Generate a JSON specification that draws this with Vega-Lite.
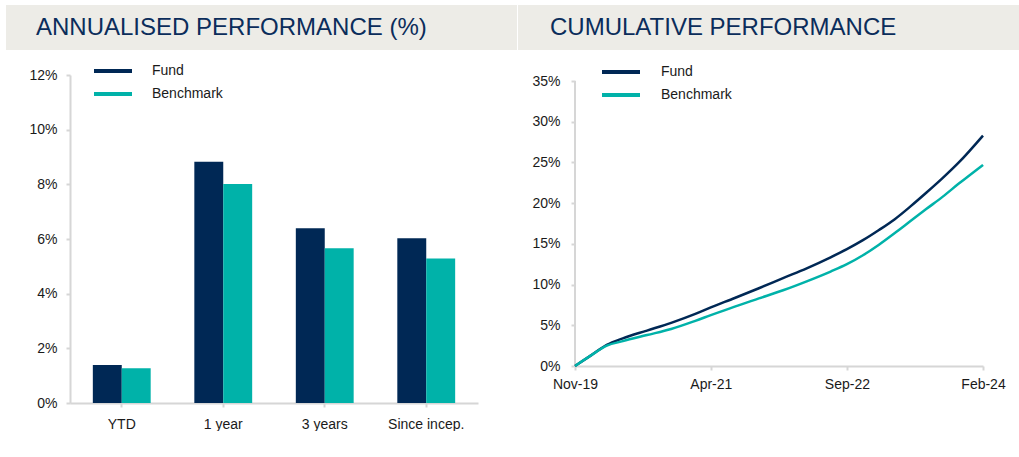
{
  "$schema": "https://vega.github.io/schema/vega-lite/v6.json",
  "background": "white",
  "padding": {"left": 6, "top": 5, "right": 0, "bottom": 0},
  "autosize": {"type": "pad"},
  "config": {
    "font": "Liberation Sans",
    "view": {"stroke": null},
    "axis": {
      "labelFont": "Liberation Sans",
      "labelFontSize": 14,
      "labelColor": "#1a1a1a",
      "domainColor": "#D6D6D6",
      "domainWidth": 2,
      "tickColor": "#D6D6D6",
      "tickWidth": 2,
      "tickSize": 4,
      "grid": false
    },
    "legend": {
      "labelFont": "Liberation Sans",
      "labelFontSize": 14,
      "labelColor": "#1a1a1a"
    }
  },
  "spacing": 10,
  "resolve": {"scale": {"color": "independent"}, "legend": {"color": "independent"}},
  "vconcat": [
    {
      "spacing": 1,
      "hconcat": [
        {
          "width": 511,
          "height": 45,
          "view": {"fill": "#EDECE7", "stroke": null},
          "data": {"values": [{"title": "ANNUALISED PERFORMANCE (%)"}]},
          "mark": {"type": "text", "align": "left", "baseline": "middle", "font": "Liberation Sans", "fontSize": 24, "color": "#0B2D5B"},
          "encoding": {"text": {"field": "title"}, "x": {"value": 30}, "y": {"value": 23}}
        },
        {
          "width": 501,
          "height": 45,
          "view": {"fill": "#EDECE7", "stroke": null},
          "data": {"values": [{"title": "CUMULATIVE PERFORMANCE"}]},
          "mark": {"type": "text", "align": "left", "baseline": "middle", "font": "Liberation Sans", "fontSize": 24, "color": "#0B2D5B"},
          "encoding": {"text": {"field": "title"}, "x": {"value": 32}, "y": {"value": 23}}
        }
      ]
    },
    {
      "spacing": 0,
      "resolve": {"scale": {"color": "independent"}, "legend": {"color": "independent"}},
      "hconcat": [
        {
          "width": 14,
          "height": 1,
          "data": {"values": []},
          "mark": {"type": "point", "opacity": 0},
          "encoding": {}
        },
        {
          "width": 408,
          "height": 328,
          "data": {"values": [
            {"period": "YTD", "series": "Fund", "value": 1.39},
            {"period": "YTD", "series": "Benchmark", "value": 1.27},
            {"period": "1 year", "series": "Fund", "value": 8.83},
            {"period": "1 year", "series": "Benchmark", "value": 8.01},
            {"period": "3 years", "series": "Fund", "value": 6.39},
            {"period": "3 years", "series": "Benchmark", "value": 5.66},
            {"period": "Since incep.", "series": "Fund", "value": 6.03},
            {"period": "Since incep.", "series": "Benchmark", "value": 5.29}
          ]},
          "mark": {"type": "bar"},
          "encoding": {
            "x": {
              "field": "period", "type": "nominal",
              "sort": ["YTD", "1 year", "3 years", "Since incep."],
              "scale": {"paddingInner": 0.43, "paddingOuter": 0.225},
              "axis": {"title": null, "labelAngle": 0, "labelPadding": 10}
            },
            "xOffset": {"field": "series", "type": "nominal", "sort": ["Fund", "Benchmark"]},
            "y": {
              "field": "value", "type": "quantitative",
              "scale": {"domain": [0, 12], "nice": false},
              "axis": {"title": null, "values": [0, 2, 4, 6, 8, 10, 12], "labelExpr": "datum.value + '%'", "labelPadding": 9, "minExtent": 50}
            },
            "color": {
              "field": "series", "type": "nominal",
              "sort": ["Fund", "Benchmark"],
              "scale": {"domain": ["Fund", "Benchmark"], "range": ["#002855", "#00B2A9"]},
              "legend": {
                "title": null,
                "orient": "none",
                "legendX": 32.5,
                "legendY": -14.5,
                "symbolType": "M-2,-0.2H2V0.2H-2Z",
                "symbolSize": 361,
                "labelOffset": 28.5,
                "rowPadding": 5
              }
            }
          }
        },
        {
          "width": 408,
          "height": 291,
          "data": {"values": [
            {"date": "2019-11-01", "series": "Fund", "value": 0},
            {"date": "2020-01-01", "series": "Fund", "value": 1.3},
            {"date": "2020-03-01", "series": "Fund", "value": 2.6},
            {"date": "2020-05-01", "series": "Fund", "value": 3.4},
            {"date": "2020-08-01", "series": "Fund", "value": 4.35},
            {"date": "2020-11-01", "series": "Fund", "value": 5.3},
            {"date": "2021-02-01", "series": "Fund", "value": 6.4},
            {"date": "2021-04-01", "series": "Fund", "value": 7.2},
            {"date": "2021-07-01", "series": "Fund", "value": 8.35},
            {"date": "2021-10-01", "series": "Fund", "value": 9.55},
            {"date": "2022-01-01", "series": "Fund", "value": 10.8},
            {"date": "2022-04-01", "series": "Fund", "value": 12.0},
            {"date": "2022-07-01", "series": "Fund", "value": 13.35},
            {"date": "2022-09-01", "series": "Fund", "value": 14.35},
            {"date": "2022-11-01", "series": "Fund", "value": 15.45},
            {"date": "2023-01-01", "series": "Fund", "value": 16.7},
            {"date": "2023-03-01", "series": "Fund", "value": 18.0},
            {"date": "2023-05-01", "series": "Fund", "value": 19.6},
            {"date": "2023-07-01", "series": "Fund", "value": 21.3},
            {"date": "2023-09-01", "series": "Fund", "value": 23.1},
            {"date": "2023-11-01", "series": "Fund", "value": 25.0},
            {"date": "2024-02-01", "series": "Fund", "value": 28.3},
            {"date": "2019-11-01", "series": "Benchmark", "value": 0},
            {"date": "2020-01-01", "series": "Benchmark", "value": 1.3},
            {"date": "2020-03-01", "series": "Benchmark", "value": 2.5},
            {"date": "2020-05-01", "series": "Benchmark", "value": 3.05},
            {"date": "2020-08-01", "series": "Benchmark", "value": 3.8},
            {"date": "2020-11-01", "series": "Benchmark", "value": 4.55},
            {"date": "2021-02-01", "series": "Benchmark", "value": 5.55},
            {"date": "2021-04-01", "series": "Benchmark", "value": 6.25},
            {"date": "2021-07-01", "series": "Benchmark", "value": 7.3},
            {"date": "2021-10-01", "series": "Benchmark", "value": 8.3},
            {"date": "2022-01-01", "series": "Benchmark", "value": 9.3},
            {"date": "2022-04-01", "series": "Benchmark", "value": 10.4},
            {"date": "2022-07-01", "series": "Benchmark", "value": 11.6},
            {"date": "2022-09-01", "series": "Benchmark", "value": 12.5},
            {"date": "2022-11-01", "series": "Benchmark", "value": 13.6},
            {"date": "2023-01-01", "series": "Benchmark", "value": 14.9},
            {"date": "2023-03-01", "series": "Benchmark", "value": 16.3},
            {"date": "2023-05-01", "series": "Benchmark", "value": 17.8},
            {"date": "2023-07-01", "series": "Benchmark", "value": 19.3},
            {"date": "2023-09-01", "series": "Benchmark", "value": 20.8},
            {"date": "2023-11-01", "series": "Benchmark", "value": 22.4},
            {"date": "2024-02-01", "series": "Benchmark", "value": 24.7}
          ]},
          "layer": [
            {
              "mark": {"type": "rule", "color": "#D6D6D6", "strokeWidth": 2},
              "encoding": {
                "x": {"datum": {"year": 2019, "month": 11, "date": 1, "utc": true}, "type": "temporal"},
                "y": {"datum": 0, "type": "quantitative"},
                "y2": {"datum": 35}
              }
            },
            {
              "mark": {"type": "line", "strokeWidth": 2.5, "interpolate": "monotone"},
              "encoding": {
                "x": {
                  "field": "date", "type": "temporal",
                  "scale": {"type": "utc", "nice": false, "domain": [{"year": 2019, "month": 11, "date": 1, "utc": true}, {"year": 2024, "month": 2, "date": 1, "utc": true}]},
                  "axis": {
                    "title": null,
                    "values": [
                      {"year": 2019, "month": 11, "date": 1, "utc": true},
                      {"year": 2021, "month": 4, "date": 1, "utc": true},
                      {"year": 2022, "month": 9, "date": 1, "utc": true},
                      {"year": 2024, "month": 2, "date": 1, "utc": true}
                    ],
                    "labelExpr": "utcFormat(datum.value, '%b-%y')",
                    "labelFlush": false,
                    "labelOverlap": false,
                    "labelPadding": 7
                  }
                },
                "y": {
                  "field": "value", "type": "quantitative",
                  "scale": {"domain": [0, 35.737], "nice": false},
                  "axis": {"title": null, "domain": false, "values": [0, 5, 10, 15, 20, 25, 30, 35], "labelExpr": "datum.value + '%'", "labelPadding": 11, "minExtent": 97}
                },
                "color": {
                  "field": "series", "type": "nominal",
                  "sort": ["Fund", "Benchmark"],
                  "scale": {"domain": ["Fund", "Benchmark"], "range": ["#002855", "#00B2A9"]},
                  "legend": {
                    "title": null,
                    "orient": "none",
                    "legendX": 34.5,
                    "legendY": -14.5,
                    "symbolType": "M-2,0H2",
                    "symbolSize": 361,
                    "symbolStrokeWidth": 4,
                    "labelOffset": 28.5,
                    "rowPadding": 3
                  }
                }
              }
            }
          ]
        }
      ]
    }
  ]
}
